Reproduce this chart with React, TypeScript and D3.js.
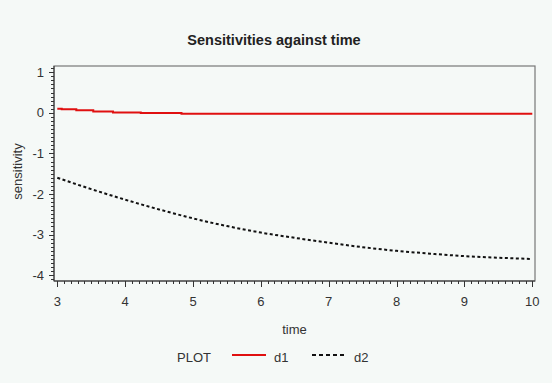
import React, { useEffect, useRef } from "react";
import * as d3 from "d3";

const d1Time = [3.0, 3.065, 3.28, 3.53, 3.82, 4.23, 4.83, 10.0];
const d1Value = [0.1, 0.085, 0.06, 0.035, 0.01, -0.005, -0.025, -0.025];

const d2Time = [3.0, 3.5, 4.0, 4.5, 5.0, 5.5, 6.0, 6.5, 7.0, 7.5, 8.0, 8.5, 9.0, 9.5, 10.0];
const d2Value = [-1.6, -1.88, -2.14, -2.38, -2.6, -2.79, -2.95, -3.08, -3.2, -3.31, -3.4, -3.47, -3.53, -3.57, -3.6];

const xTicks = [3, 4, 5, 6, 7, 8, 9, 10];
const yTicks = [1, 0, -1, -2, -3, -4];

const W = 552, H = 383;
const FONT = "'Liberation Sans', Arial, sans-serif";

export default function App() {
  const ref = useRef<SVGSVGElement>(null);
  useEffect(() => {
    document.body.style.margin = "0";
    const svg = d3.select(ref.current);
    svg.selectAll("*").remove();
    const left = 54, right = 535, top = 66, bottom = 281;
    const x = d3.scaleLinear().domain([3, 10]).range([57.3, 532.3]);
    const y = d3.scaleLinear().domain([1, -4]).range([72.2, 275.2]);

    svg.append("rect").attr("width", W).attr("height", H).attr("fill", "#f5f9f7");

    // title
    svg.append("text").attr("x", 274).attr("y", 45).attr("text-anchor", "middle")
      .attr("font-family", FONT).attr("font-size", 14.5).attr("font-weight", "bold").attr("fill", "#222")
      .text("Sensitivities against time");

    // frame
    svg.append("rect").attr("x", left).attr("y", top).attr("width", right - left).attr("height", bottom - top)
      .attr("fill", "none").attr("stroke", "#777").attr("stroke-width", 1.2);
    svg.append("line").attr("x1", left).attr("x2", left).attr("y1", top).attr("y2", bottom).attr("stroke", "#333");
    svg.append("line").attr("x1", left).attr("x2", right).attr("y1", bottom).attr("y2", bottom).attr("stroke", "#333");

    // y ticks
    const yMinor = d3.range(-41, 12).map((i) => i / 10).filter((v) => v >= -4.14 && v <= 1.14);
    yMinor.forEach((v) => {
      const major = Math.abs(v - Math.round(v)) < 1e-6;
      svg.append("line").attr("x1", left).attr("x2", left - (major ? 5 : 3))
        .attr("y1", Math.round(y(v)) + 0.5).attr("y2", Math.round(y(v)) + 0.5).attr("stroke", "#333").attr("stroke-width", 1);
    });
    yTicks.forEach((v) => {
      svg.append("text").attr("x", left - 10).attr("y", y(v) + 4.5).attr("text-anchor", "end")
        .attr("font-family", FONT).attr("font-size", 13).attr("fill", "#333").text(String(v));
    });

    // x ticks
    const xMinor = d3.range(30, 101).map((i) => i / 10);
    xMinor.forEach((v) => {
      const major = Math.abs(v - Math.round(v)) < 1e-6;
      svg.append("line").attr("y1", bottom).attr("y2", bottom + (major ? 6 : 3))
        .attr("x1", Math.round(x(v)) + 0.5).attr("x2", Math.round(x(v)) + 0.5).attr("stroke", "#333").attr("stroke-width", 1);
    });
    xTicks.forEach((v) => {
      svg.append("text").attr("x", x(v)).attr("y", bottom + 25).attr("text-anchor", "middle")
        .attr("font-family", FONT).attr("font-size", 13).attr("fill", "#333").text(String(v));
    });

    // axis labels
    svg.append("text").attr("x", (left + right) / 2).attr("y", 334).attr("text-anchor", "middle")
      .attr("font-family", FONT).attr("font-size", 13).attr("fill", "#333").text("time");
    svg.append("text").attr("transform", `translate(22,${(top + bottom) / 2 - 2}) rotate(-90)`).attr("text-anchor", "middle")
      .attr("font-family", FONT).attr("font-size", 13).attr("fill", "#333").text("sensitivity");

    // lines
    const d1 = d1Time.map((t, i) => [t, d1Value[i]] as [number, number]);
    const d2 = d2Time.map((t, i) => [t, d2Value[i]] as [number, number]);
    const stepLine = d3.line<[number, number]>().x((d) => x(d[0])).y((d) => y(d[1])).curve(d3.curveStepAfter);
    const smooth = d3.line<[number, number]>().x((d) => x(d[0])).y((d) => y(d[1])).curve(d3.curveMonotoneX);
    svg.append("path").attr("d", smooth(d2)).attr("fill", "none").attr("stroke", "#111")
      .attr("stroke-width", 2).attr("stroke-dasharray", "3,2.5");
    svg.append("path").attr("d", stepLine(d1)).attr("fill", "none").attr("stroke", "#e01010").attr("stroke-width", 2);

    // legend
    const ly = 357;
    svg.append("text").attr("x", 177).attr("y", ly + 5).attr("font-family", FONT).attr("font-size", 13)
      .attr("fill", "#333").text("PLOT");
    svg.append("line").attr("x1", 232).attr("x2", 266).attr("y1", ly - 2).attr("y2", ly - 2)
      .attr("stroke", "#e01010").attr("stroke-width", 2);
    svg.append("text").attr("x", 274).attr("y", ly + 5).attr("font-family", FONT).attr("font-size", 13)
      .attr("fill", "#333").text("d1");
    svg.append("line").attr("x1", 312).attr("x2", 344).attr("y1", ly - 2).attr("y2", ly - 2)
      .attr("stroke", "#111").attr("stroke-width", 2).attr("stroke-dasharray", "4,3");
    svg.append("text").attr("x", 354).attr("y", ly + 5).attr("font-family", FONT).attr("font-size", 13)
      .attr("fill", "#333").text("d2");
  }, []);
  return <svg ref={ref} width={W} height={H} style={{ display: "block" }} />;
}
